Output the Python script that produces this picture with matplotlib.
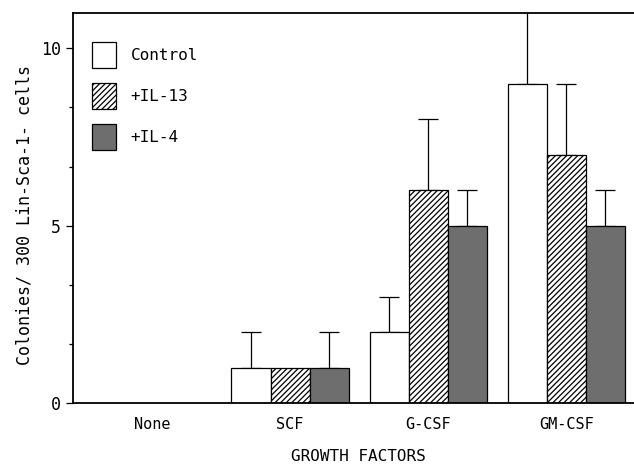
import numpy as np
import matplotlib
matplotlib.use('Agg')
import matplotlib.pyplot as plt
from matplotlib.patches import Patch

groups = ['None', 'SCF', 'G-CSF', 'GM-CSF']
series = ['Control', '+IL-13', '+IL-4']
control = [0, 1, 2, 9]
il13 = [0, 1, 6, 7]
il4 = [0, 1, 5, 5]
control_err = [0, 1, 1, 2.5]
il13_err = [0, 0, 2, 2]
il4_err = [0, 1, 1, 1]

plt.rcParams['font.family'] = ['DejaVu Sans Mono']
plt.rcParams['hatch.linewidth'] = 0.9

fig = plt.figure(figsize=(6.34, 4.70), dpi=100)
ax = fig.add_axes([0.115, 0.1426, 0.885, 0.83])

x = np.arange(len(groups))
w = 0.283
styles = [dict(facecolor='white', hatch=None),
          dict(facecolor='white', hatch='//////'),
          dict(facecolor='#6e6e6e', hatch=None)]
vals = [control, il13, il4]
errs = [control_err, il13_err, il4_err]
for i in range(3):
    pos = x + (i - 1) * w
    ax.bar(pos, vals[i], w, edgecolor='black', linewidth=0.9,
           label=series[i], zorder=2, **styles[i])
    e = np.array(errs[i])
    m = e > 0
    ax.errorbar(pos[m], np.array(vals[i])[m], yerr=[np.zeros(m.sum()), e[m]],
                fmt='none', ecolor='black', elinewidth=0.9, capsize=7.2,
                capthick=0.9, zorder=1)

ax.set_xlim(-0.572, 3.49)
ax.set_ylim(0, 11)
ax.set_xticks(x)
ax.set_xticklabels(groups, fontsize=11)
ax.tick_params(axis='x', length=0, pad=10)
ax.set_yticks([0, 5, 10])
ax.set_yticks([5/3, 10/3, 20/3, 25/3], minor=True)
ax.tick_params(axis='y', labelsize=12, length=5, width=0.9, direction='out')
ax.tick_params(axis='y', which='minor', length=3, width=0.9)
ax.spines['right'].set_visible(False)
for s in ['left', 'bottom', 'top']:
    ax.spines[s].set_linewidth(1.3)

ax.set_ylabel('Colonies/ 300 Lin-Sca-1- cells', fontsize=12)
ax.yaxis.set_label_coords(-0.071, 0.481)
ax.set_xlabel('GROWTH FACTORS', fontsize=11.5)
ax.xaxis.set_label_coords(0.508, -0.118)

handles = [Patch(edgecolor='black', linewidth=0.9, **styles[i]) for i in range(3)]
ax.legend(handles, series, loc='upper left', bbox_to_anchor=(0.008, 0.962),
          frameon=False, fontsize=11.5, handlelength=1.5, handleheight=2.1,
          labelspacing=0.95, handletextpad=0.94)

fig.savefig('out.png', dpi=100)
